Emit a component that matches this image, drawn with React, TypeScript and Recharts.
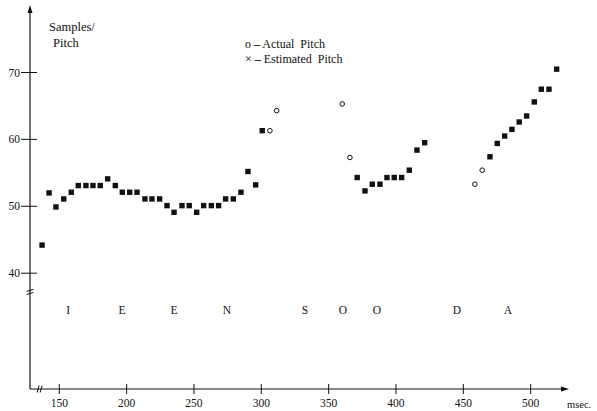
import React from 'react';
import { ScatterChart, Scatter, XAxis, YAxis, Legend, ReferenceDot, Label } from 'recharts';

// ---- data ----
const estimatedTime = [
  137.2, 142.4, 147.5, 153.3, 158.9, 164.1, 169.8, 175.0, 180.4, 185.9,
  191.6, 196.8, 202.3, 207.7, 213.6, 218.8, 224.5, 230.0, 235.2, 241.1,
  246.5, 252.0, 257.2, 262.9, 268.3, 273.5, 279.2, 284.9, 290.1, 295.8,
  300.7,
  371.2, 377.0, 382.4, 388.1, 393.3, 398.7, 404.2, 409.9, 415.6, 421.3,
  469.8, 475.2, 480.7, 486.1, 491.5, 497.0, 502.7, 507.9, 513.6, 519.3,
];
const estimatedPitch = [
  44.2, 52.0, 49.9, 51.1, 52.1, 53.1, 53.1, 53.1, 53.1, 54.1,
  53.1, 52.1, 52.1, 52.1, 51.1, 51.1, 51.1, 50.1, 49.1, 50.1,
  50.1, 49.1, 50.1, 50.1, 50.1, 51.1, 51.1, 52.1, 55.2, 53.2,
  61.3,
  54.3, 52.3, 53.3, 53.3, 54.3, 54.3, 54.3, 55.4, 58.4, 59.5,
  57.4, 59.4, 60.5, 61.5, 62.6, 63.5, 65.6, 67.5, 67.5, 70.5,
];
const actualTime = [306.4, 311.4, 360.1, 365.8, 458.6, 464.0];
const actualPitch = [61.3, 64.3, 65.3, 57.3, 53.3, 55.4];

const phonemeLabels = ['I', 'E', 'E', 'N', 'S', 'O', 'O', 'D', 'A'];
const phonemeTime = [156.6, 196.6, 235.2, 274.5, 332.4, 360.6, 385.8, 445.2, 483.1];

const xTicks = [150, 200, 250, 300, 350, 400, 450, 500];
const yTicks = [40, 50, 60, 70];

// axis ranges (origin of the drawn axes and their arrow tips)
const X_MIN = 128.25;
const X_MAX = 525.5;
const Y_MIN = 22.69;
const Y_MAX = 79.64;
const PHONEME_LEVEL = 34.5;
const Y_BREAK = 37.2;
const X_BREAK = 135.4;

const FONT = '"Liberation Serif", "DejaVu Serif", "Times New Roman", serif';
const INK = '#111';

const estimatedData = estimatedTime.map((t, i) => ({ t, v: estimatedPitch[i] }));
const actualData = actualTime.map((t, i) => ({ t, v: actualPitch[i] }));
const phonemeData = phonemeTime.map((t, i) => ({ t, v: PHONEME_LEVEL, label: phonemeLabels[i] }));

const SquareMark = (p: any) => (
  <rect x={p.cx - 2.7} y={p.cy - 2.7} width={5.4} height={5.4} fill={INK} />
);
const CircleMark = (p: any) => (
  <circle cx={p.cx} cy={p.cy} r={2.3} fill="#fff" stroke={INK} strokeWidth={1} />
);
const PhonemeMark = (p: any) => (
  <text x={p.cx} y={p.cy} textAnchor="middle" dominantBaseline="central"
    fontFamily={FONT} fontSize={11.5} fill={INK}>
    {p.payload?.label}
  </text>
);

const YTick = (p: any) => (
  <g>
    <line x1={p.x - 9} x2={p.x + 7} y1={p.y} y2={p.y} stroke={INK} strokeWidth={1} />
    <text x={p.x - 10} y={p.y} dy="0.35em" textAnchor="end" fontFamily={FONT} fontSize={11.5} fill={INK}>
      {p.payload.value}
    </text>
  </g>
);
const XTick = (p: any) => (
  <g>
    <line x1={p.x} x2={p.x} y1={p.y - 5} y2={p.y + 5} stroke={INK} strokeWidth={1} />
    <text x={p.x} y={p.y + 18} textAnchor="middle" fontFamily={FONT} fontSize={11.5} fill={INK}>
      {p.payload.value}
    </text>
  </g>
);

const UpArrow = (p: any) => (
  <path d={`M${p.cx},${p.cy - 3} L${p.cx - 2.5},${p.cy + 5} L${p.cx + 2.5},${p.cy + 5} Z`} fill={INK} />
);
const RightArrow = (p: any) => (
  <path d={`M${p.cx + 4},${p.cy} L${p.cx - 4},${p.cy - 2.5} L${p.cx - 4},${p.cy + 2.5} Z`} fill={INK} />
);
const YBreak = (p: any) => (
  <g stroke={INK} strokeWidth={1}>
    <line x1={p.cx - 3.5} y1={p.cy - 0.5} x2={p.cx + 3.5} y2={p.cy - 2.5} />
    <line x1={p.cx - 3.5} y1={p.cy + 2.5} x2={p.cx + 3.5} y2={p.cy + 0.5} />
  </g>
);
const XBreak = (p: any) => (
  <g stroke={INK} strokeWidth={1}>
    <line x1={p.cx - 2.5} y1={p.cy + 3.5} x2={p.cx - 0.5} y2={p.cy - 3.5} />
    <line x1={p.cx + 0.5} y1={p.cy + 3.5} x2={p.cx + 2.5} y2={p.cy - 3.5} />
  </g>
);

const LegendBox = () => (
  <div style={{ fontFamily: FONT, fontSize: 12, color: INK, lineHeight: '15px', whiteSpace: 'nowrap' }}>
    <div>o <b>–</b> Actual&nbsp; Pitch</div>
    <div>× <b>–</b> Estimated&nbsp; Pitch</div>
  </div>
);

export default function App() {
  return (
    <div style={{ position: 'absolute', left: 0, top: 0, width: 597, height: 411, background: '#fff' }}>
      <ScatterChart width={597} height={411} margin={{ top: 8, right: 32, bottom: 0, left: 0 }}>
        <XAxis
          type="number"
          dataKey="t"
          domain={[X_MIN, X_MAX]}
          allowDataOverflow
          ticks={xTicks}
          height={22}
          tickSize={0}
          tickMargin={0}
          tickLine={false}
          axisLine={{ stroke: INK, strokeWidth: 1.2 }}
          tick={<XTick />}
          interval={0}
        >
          <Label
            content={(lp: any) => {
              const vb = lp.viewBox;
              return (
                <text x={vb.x + vb.width + 2} y={vb.y + 19} fontFamily={FONT} fontSize={10.5} fill={INK}>
                  msec.
                </text>
              );
            }}
          />
        </XAxis>
        <YAxis
          type="number"
          dataKey="v"
          domain={[Y_MIN, Y_MAX]}
          allowDataOverflow
          ticks={yTicks}
          width={30}
          tickSize={0}
          tickMargin={0}
          tickLine={false}
          axisLine={{ stroke: INK, strokeWidth: 1.2 }}
          tick={<YTick />}
          interval={0}
        >
          <Label
            content={(lp: any) => {
              const vb = lp.viewBox;
              const x0 = vb.x + vb.width;
              return (
                <g fontFamily={FONT} fontSize={12.5} fill={INK}>
                  <text x={x0 + 19} y={vb.y + 23}>Samples/</text>
                  <text x={x0 + 23} y={vb.y + 39}>Pitch</text>
                </g>
              );
            }}
          />
        </YAxis>
        <Legend
          layout="vertical"
          align="center"
          verticalAlign="middle"
          content={<LegendBox />}
          wrapperStyle={{ position: 'absolute', left: 245, top: 37, width: 'auto', height: 'auto' }}
        />
        <Scatter name="Actual Pitch" data={actualData} shape={<CircleMark />} isAnimationActive={false} />
        <Scatter name="Estimated Pitch" data={estimatedData} shape={<SquareMark />} isAnimationActive={false} />
        <Scatter name="phonemes" data={phonemeData} shape={<PhonemeMark />} legendType="none" isAnimationActive={false} />
        <ReferenceDot x={X_MIN} y={Y_MAX} ifOverflow="visible" shape={<UpArrow />} />
        <ReferenceDot x={X_MAX} y={Y_MIN} ifOverflow="visible" shape={<RightArrow />} />
        <ReferenceDot x={X_MIN} y={Y_BREAK} ifOverflow="visible" shape={<YBreak />} />
        <ReferenceDot x={X_BREAK} y={Y_MIN} ifOverflow="visible" shape={<XBreak />} />
      </ScatterChart>
    </div>
  );
}
